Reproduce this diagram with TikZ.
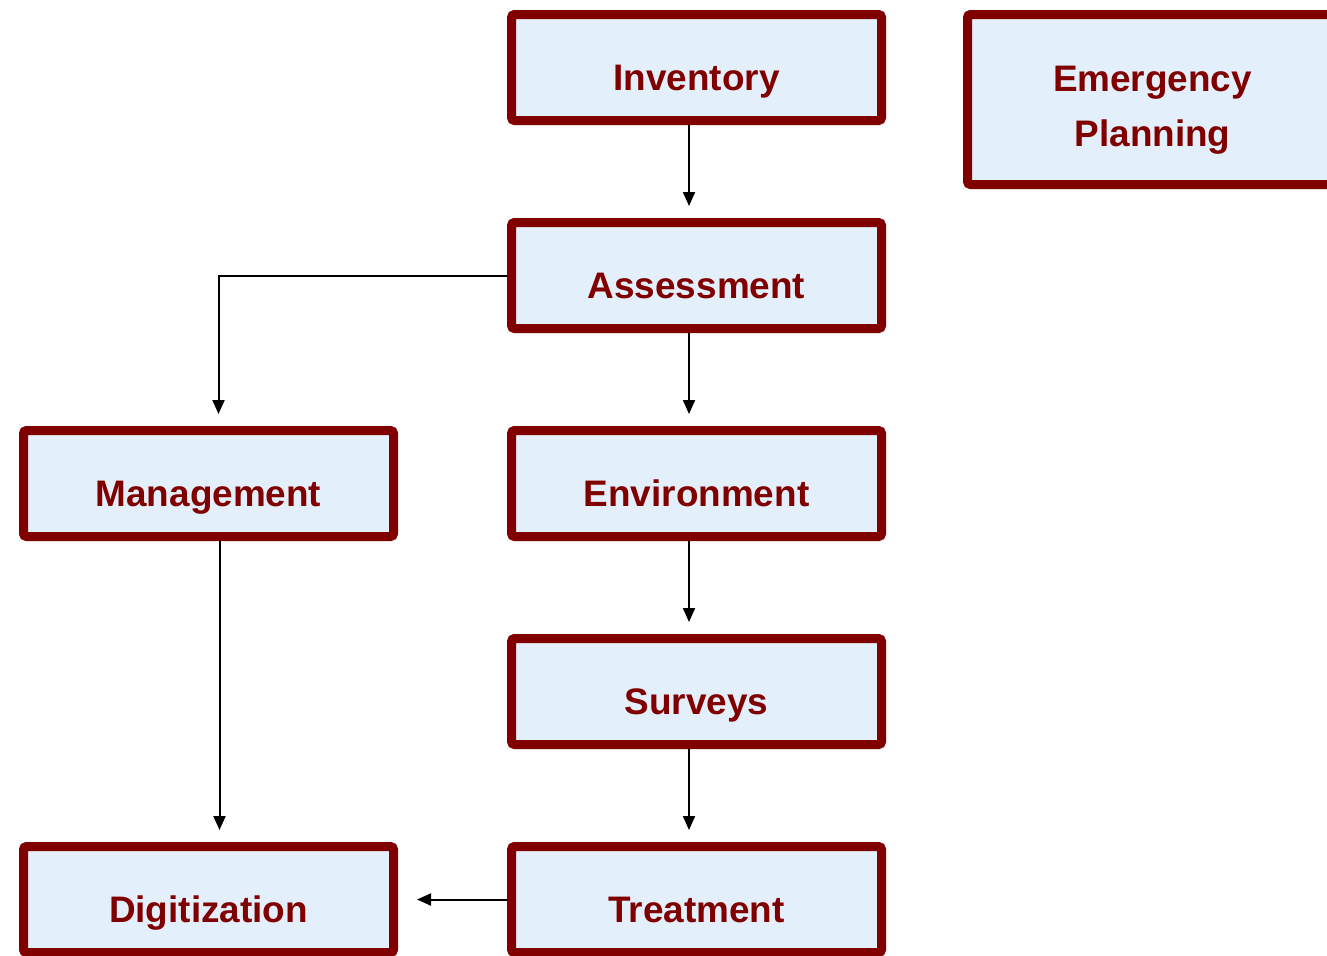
\documentclass[tikz,border=0pt]{standalone}
\usepackage{fontspec}
\newfontfamily\boxfont{Liberation Sans}
\usepackage{xcolor}
\usetikzlibrary{positioning}
\usetikzlibrary{arrows.meta}
\definecolor{boxred}{HTML}{800000}
\definecolor{boxblue}{HTML}{E3EFFB}
\tikzset{
	main box/.style={rectangle, draw=boxred, fill=boxblue, line width=0.18cm,
		rounded corners=0.06cm, minimum width=7.4cm, minimum height=2.12cm,
		text=boxred, font=\boxfont\bfseries\fontsize{21}{31}\selectfont},
	one line/.style={main box, text height=1.2cm, text depth=0.27cm},
	flow/.style={->, black, line width=0.04cm, shorten >=0.24cm}
}

\begin{document}
\begin{tikzpicture}[>={Triangle[width=0.24cm,length=0.28cm]},
		node distance=1.86cm and 2.18cm]
	\useasboundingbox (0,0) rectangle (26.54,-19.1);
	% middle column
	\node [one line] (inv) at (13.93,-1.35) {Inventory};
	\node [one line] (assess) [below=of inv] {Assessment};
	\node [one line] (env) [below=of assess] {Environment};
	\node [one line] (surv) [below=of env] {Surveys};
	\node [one line] (treat) [below=of surv] {Treatment};
	% left column
	\node [one line] (mgmt) [left=of env] {Management};
	\node [one line] (digit) [left=of treat] {Digitization};
	% right
	\node [main box, anchor=north west, minimum height=3.4cm, align=center] (emerg)
		at ([xshift=1.54cm]inv.north east) {\rule{0pt}{0.93cm}Emergency\\Planning};
	% connectors
	\draw [flow] ([xshift=-0.15cm]inv.south) -- ([xshift=-0.15cm]assess.north);
	\draw [flow] ([xshift=-0.15cm]assess.south) -- ([xshift=-0.15cm]env.north);
	\draw [flow] ([xshift=-0.15cm]env.south) -- ([xshift=-0.15cm]surv.north);
	\draw [flow] ([xshift=-0.15cm]surv.south) -- ([xshift=-0.15cm]treat.north);
	\draw [flow] (assess.west) -| ([xshift=0.2cm]mgmt.north);
	\draw [flow] ([xshift=0.22cm]mgmt.south) -- ([xshift=0.22cm]digit.north);
	\draw [flow, shorten >=0.38cm] (treat.west) -- (digit.east);
\end{tikzpicture}
\end{document}
